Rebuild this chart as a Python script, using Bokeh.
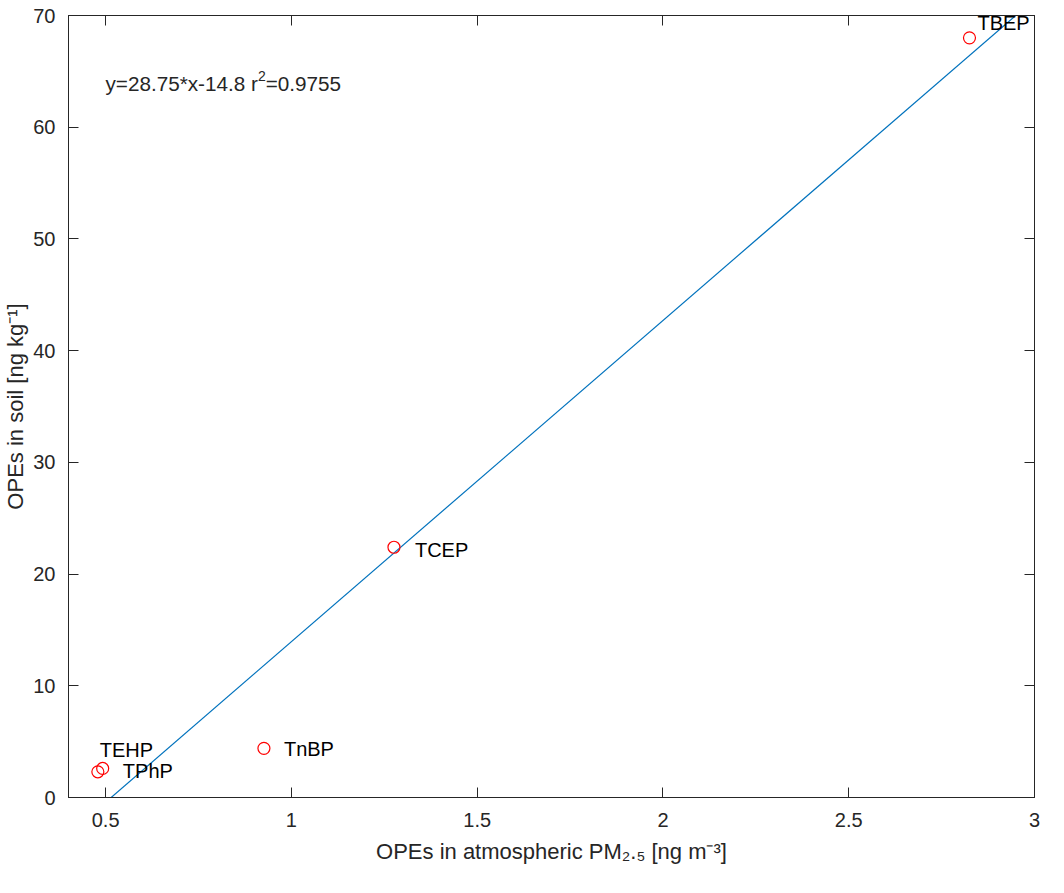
import math
from bokeh.plotting import figure
from bokeh.models import Label, LabelSet, LinearAxis, Range1d, FixedTicker, ColumnDataSource
from bokeh.core.properties import value
from bokeh.embed import file_html
from bokeh.resources import INLINE

# ---- data ----
compounds = ["TBEP", "TCEP", "TnBP", "TEHP", "TPhP"]
pm25 = [2.825, 1.276, 0.926, 0.492, 0.479]      # ng m-3
soil = [68.0, 22.4, 4.4, 2.6, 2.3]              # ng kg-1
slope = 28.75
intercept = -14.8
r2 = 0.9755
x_ticks = [0.5, 1, 1.5, 2, 2.5, 3]
x_tick_labels = ["0.5", "1", "1.5", "2", "2.5", "3"]
y_ticks = [0, 10, 20, 30, 40, 50, 60, 70]
y_tick_labels = ["0", "10", "20", "30", "40", "50", "60", "70"]
x_limits = [0.4, 3.0]
y_limits = [0, 70]
x_title = "OPEs in atmospheric PM\u2082.\u2085 [ng m\u207b\u00b3]"
y_title = "OPEs in soil [ng kg\u207b\u00b9]"

# ---- styles ----
FONT = "Liberation Sans"
AX = "#262626"
label_dx = [8, 21, 20, -3, 25]        # px offsets of point labels
label_dy = [8, -10, -8, 11, -6]       # px (up positive)

W, H = 1048, 877
p = figure(width=W, height=H, output_backend="svg", toolbar_location=None,
           x_range=Range1d(*x_limits), y_range=Range1d(*y_limits),
           min_border_left=67, min_border_right=14, min_border_top=15, min_border_bottom=80,
           x_axis_location=None, y_axis_location=None)
p.grid.visible = False
p.outline_line_color = AX
p.outline_line_width = 1
p.background_fill_color = "white"
p.border_fill_color = "white"

def make_axis(ticks, labels, standoff=None, title=None, title_standoff=0):
    ax = LinearAxis(ticker=FixedTicker(ticks=ticks))
    ax.major_label_overrides = {t: l for t, l in zip(ticks, labels)}
    ax.major_tick_in = 10
    ax.major_tick_out = 0
    ax.minor_tick_line_color = None
    ax.axis_line_color = AX
    ax.major_tick_line_color = AX
    ax.major_label_text_font = FONT
    ax.major_label_text_font_size = "20px"
    if standoff is None:
        ax.major_label_text_color = None
        ax.major_label_standoff = 0
    else:
        ax.major_label_text_color = AX
        ax.major_label_standoff = standoff
    if title is not None:
        ax.axis_label = title
        ax.axis_label_text_font = FONT
        ax.axis_label_text_font_size = "22px"
        ax.axis_label_text_font_style = "normal"
        ax.axis_label_text_color = AX
        ax.axis_label_standoff = title_standoff
    return ax

p.add_layout(make_axis(x_ticks, x_tick_labels, 15, x_title, 9), "below")
p.add_layout(make_axis(y_ticks, y_tick_labels, 13, y_title, 2), "left")
p.add_layout(make_axis(x_ticks, x_tick_labels), "above")
p.add_layout(make_axis(y_ticks, y_tick_labels), "right")

# fit line
fit_x = list(x_limits)
fit_y = [slope * v + intercept for v in fit_x]
p.line(fit_x, fit_y, line_color="#0072BD", line_width=1.2)

# points
src = ColumnDataSource(dict(x=pm25, y=soil, name=compounds, dx=label_dx, dy=label_dy))
p.scatter("x", "y", source=src, marker="circle", size=12, fill_color=None,
          line_color="#FF0000", line_width=1.2)
p.add_layout(LabelSet(x="x", y="y", text="name", source=src, x_offset="dx", y_offset="dy",
                      text_font=value(FONT), text_font_size=value("20px"), text_color="black",
                      text_baseline="alphabetic", text_align="left"))

# ---- equation text (Arial/Liberation Sans advance widths, 1/1000 em) ----
AW = {' ': 278, 'r': 333, '.': 278, '-': 333, 'y': 500, '=': 584, '*': 389, 'x': 500}
for d in "0123456789":
    AW[d] = 556

def tw(s, size):
    return sum(AW.get(c, 556) for c in s) * size / 1000.0

def add_pieces(pieces, x, y, start_dx, start_dy):
    pos = 0.0
    for txt, size, shift in pieces:
        p.add_layout(Label(x=x, y=y, x_offset=start_dx + pos, y_offset=start_dy + shift, text=txt,
                           text_font=FONT, text_font_size=f"{size}px", text_color=AX,
                           text_baseline="alphabetic", text_align="left"))
        pos += tw(txt, size)

eq_pieces = [(f"y={slope}*x{intercept:+g} r".replace("+-", "-"), 20.7, 0), ("2", 14, 8), (f"={r2}", 20.7, 0)]
add_pieces(eq_pieces, x_limits[0], y_limits[1], 37, -68)

open("out.html", "w").write(file_html(p, INLINE))
